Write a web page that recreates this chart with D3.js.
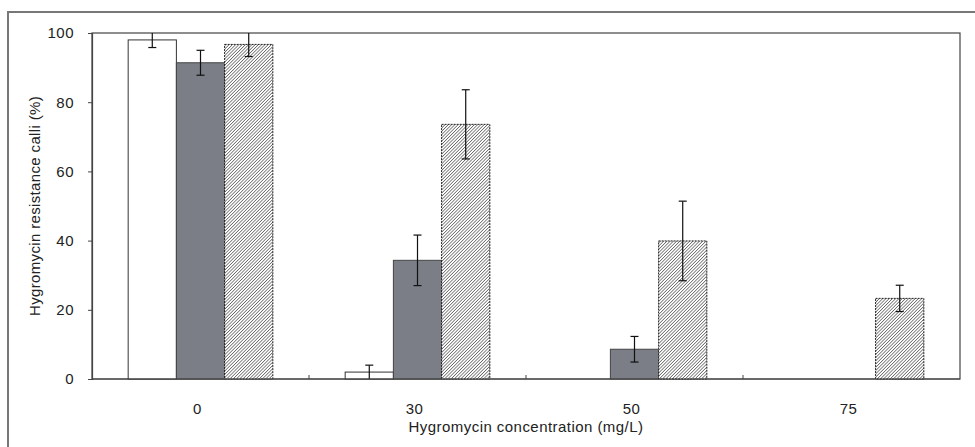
<!DOCTYPE html>
<html>
<head>
    <meta charset="utf-8">
    <script src="https://cdn.jsdelivr.net/npm/d3@7"></script>
    <style>
        body { margin: 0; background: #fff; }
        text { font-family: "Liberation Sans", Arial, sans-serif; fill: #222; }
    </style>
</head>
<body>
    <div id="chart"></div>
    <script>
        // concentrations (mg/L)
        var categories = ["0", "30", "50", "75"];
        var seriesNames = ["white", "gray", "hatch"];
        // resistance calli (%) per series, null = no bar
        var whiteVals = [98, 2, null, null];
        var whiteErr  = [2.2, 2, null, null];
        var grayVals  = [91.4, 34.3, 8.6, null];
        var grayErr   = [3.6, 7.3, 3.7, null];
        var hatchVals = [96.7, 73.6, 39.9, 23.3];
        var hatchErr  = [3.5, 10, 11.5, 3.8];
        var yTicks = [0, 20, 40, 60, 80, 100];

        var width = 975, height = 447;
        var margin = {top: 33, right: 15, bottom: 68, left: 92};

        var svg = d3.select("#chart").append("svg")
            .attr("width", width)
            .attr("height", height);

        // hatch pattern
        var defs = svg.append("defs");
        var pat = defs.append("pattern")
            .attr("id", "hatch")
            .attr("patternUnits", "userSpaceOnUse")
            .attr("width", 2.3)
            .attr("height", 2.3)
            .attr("patternTransform", "rotate(45)");
        pat.append("rect").attr("width", 2.3).attr("height", 2.3).attr("fill", "#fff");
        pat.append("line")
            .attr("x1", 0).attr("y1", 0).attr("x2", 0).attr("y2", 2.3)
            .attr("stroke", "#2a2a2a").attr("stroke-width", 1.1);

        // outer chart frame
        svg.append("rect")
            .attr("x", 8).attr("y", 12)
            .attr("width", 1000).attr("height", 500)
            .attr("fill", "none")
            .attr("stroke", "#777")
            .attr("stroke-width", 2);

        var x = d3.scaleBand()
            .domain(categories)
            .range([margin.left, width - margin.right]);
        var x1 = d3.scaleBand()
            .domain(seriesNames)
            .range([0, x.bandwidth()])
            .paddingOuter(0.75);
        var y = d3.scaleLinear()
            .domain([0, 100])
            .range([height - margin.bottom, margin.top]);

        // plot area box
        svg.append("rect")
            .attr("x", margin.left).attr("y", margin.top)
            .attr("width", width - margin.left - margin.right)
            .attr("height", y(0) - margin.top)
            .attr("fill", "none")
            .attr("stroke", "#444")
            .attr("stroke-width", 1.2);

        var series = [
            {name: "white", vals: whiteVals, err: whiteErr, fill: "#fff", stroke: "#333", dash: null},
            {name: "gray", vals: grayVals, err: grayErr, fill: "#7b7e86", stroke: "#444", dash: null},
            {name: "hatch", vals: hatchVals, err: hatchErr, fill: "url(#hatch)", stroke: "#222", dash: "2,1"}
        ];

        series.forEach(function(s) {
            var data = categories.map(function(c, i) {
                return {cat: c, v: s.vals[i], e: s.err[i]};
            }).filter(function(d) { return d.v !== null; });

            svg.append("g").selectAll("rect")
                .data(data)
                .enter().append("rect")
                    .attr("x", function(d) { return x(d.cat) + x1(s.name); })
                    .attr("y", function(d) { return y(d.v); })
                    .attr("width", x1.bandwidth())
                    .attr("height", function(d) { return y(0) - y(d.v); })
                    .attr("fill", s.fill)
                    .attr("stroke", s.stroke)
                    .attr("stroke-width", 1)
                    .attr("stroke-dasharray", s.dash);

            // error bars
            var eg = svg.append("g").attr("stroke", "#111").attr("stroke-width", 1.2);
            data.forEach(function(d) {
                var cx = x(d.cat) + x1(s.name) + x1.bandwidth() / 2;
                var hi = Math.min(d.v + d.e, 100), lo = Math.max(d.v - d.e, 0);
                eg.append("line").attr("x1", cx).attr("x2", cx)
                    .attr("y1", y(hi)).attr("y2", y(lo));
                if (d.v + d.e < 100) {
                    eg.append("line").attr("x1", cx - 4).attr("x2", cx + 4)
                        .attr("y1", y(hi)).attr("y2", y(hi));
                }
                if (d.v - d.e > 0) {
                    eg.append("line").attr("x1", cx - 4).attr("x2", cx + 4)
                        .attr("y1", y(lo)).attr("y2", y(lo));
                }
            });
        });

        // y axis
        var yAxis = svg.append("g")
            .attr("transform", "translate(" + margin.left + ",0)")
            .call(d3.axisLeft(y).tickValues(yTicks).tickSize(4).tickPadding(14));
        yAxis.select(".domain").attr("stroke", "#444").attr("stroke-width", 1.2);
        yAxis.selectAll(".tick line").attr("stroke", "#444");
        yAxis.selectAll("text").style("font-size", "15px").style("letter-spacing", "0.5px").attr("fill", "#222");

        // x axis: ticks at category boundaries pointing inward
        var xAxis = svg.append("g")
            .attr("transform", "translate(0," + y(0) + ")");
        xAxis.append("line")
            .attr("x1", margin.left).attr("x2", width - margin.right)
            .attr("stroke", "#444").attr("stroke-width", 1.2);
        xAxis.selectAll(".bt")
            .data(categories.slice(1))
            .enter().append("line")
                .attr("x1", function(d) { return x(d); })
                .attr("x2", function(d) { return x(d); })
                .attr("y1", 0).attr("y2", -4)
                .attr("stroke", "#444");
        xAxis.selectAll(".lbl")
            .data(categories)
            .enter().append("text")
                .attr("x", function(d) { return x(d) + x.bandwidth() / 2 - 3; })
                .attr("y", 34.5)
                .attr("text-anchor", "middle")
                .style("font-size", "15px")
                .style("letter-spacing", "0.5px")
                .text(function(d) { return d; });

        // axis titles
        svg.append("text")
            .attr("x", (margin.left + width - margin.right) / 2)
            .attr("y", 431.5)
            .attr("text-anchor", "middle")
            .style("font-size", "15px")
            .style("letter-spacing", "0.45px")
            .text("Hygromycin concentration (mg/L)");

        svg.append("text")
            .attr("transform", "translate(40," + (margin.top + y(0)) / 2 + ")rotate(-90)")
            .attr("text-anchor", "middle")
            .style("font-size", "15px")
            .style("letter-spacing", "0.35px")
            .text("Hygromycin resistance calli (%)");
    </script>
</body>
</html>
